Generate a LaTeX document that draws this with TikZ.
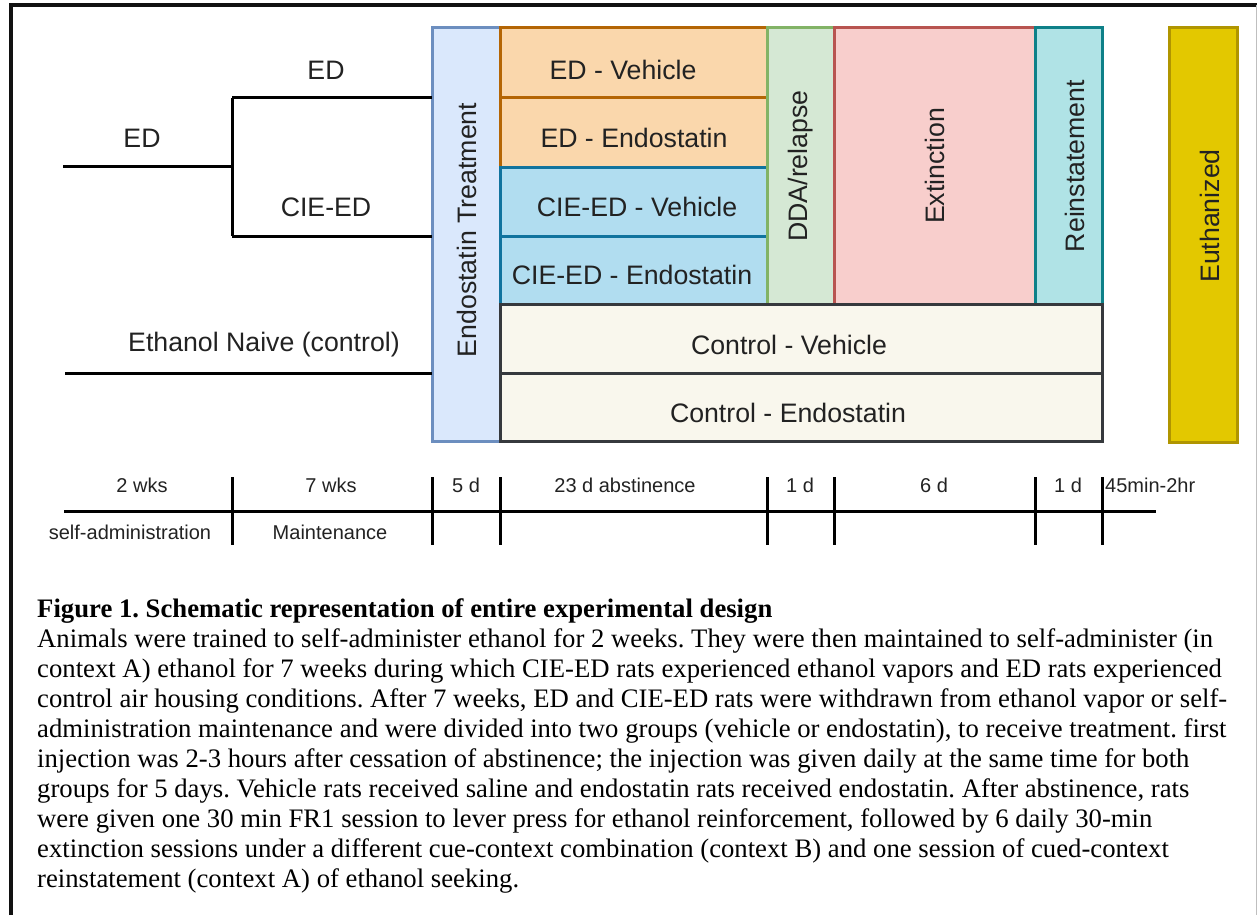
\documentclass[tikz,border=0pt]{standalone}
\usepackage{fontspec}
\setmainfont{Liberation Serif}
\setsansfont{Liberation Sans}
\frenchspacing
\definecolor{frameblack}{HTML}{111111}
\definecolor{trtfill}{HTML}{DAE8FC}\definecolor{trtdraw}{HTML}{6C8EBF}
\definecolor{edfill}{HTML}{FAD7AC}\definecolor{eddraw}{HTML}{B46504}
\definecolor{ciefill}{HTML}{B1DDF0}\definecolor{ciedraw}{HTML}{10739E}
\definecolor{ddafill}{HTML}{D5E8D4}\definecolor{ddadraw}{HTML}{82B366}
\definecolor{extfill}{HTML}{F8CECC}\definecolor{extdraw}{HTML}{B85450}
\definecolor{reifill}{HTML}{B0E3E6}\definecolor{reidraw}{HTML}{0E8088}
\definecolor{ctlfill}{HTML}{F9F7ED}\definecolor{ctldraw}{HTML}{36393D}
\definecolor{eutfill}{HTML}{E3C800}\definecolor{eutdraw}{HTML}{B09500}
\definecolor{txt}{HTML}{222222}
\begin{document}
\begin{tikzpicture}[x=1pt,y=-1pt,
  box/.style={draw, line width=3pt, anchor=north west, inner sep=0pt, outer sep=0pt},
  lbl/.style={font=\sffamily\fontsize{26.7}{30}\selectfont, text=txt, inner sep=0pt},
  vlbl/.style={lbl, rotate=90},
  tl/.style={font=\sffamily\fontsize{20}{24}\selectfont, text=txt, inner sep=0pt},
  wire/.style={line width=3pt, black},
  tickline/.style={line width=3pt, black},
  captxt/.style={font=\fontsize{26.7}{30.1}\selectfont, anchor=base west, inner sep=0pt}
]
\useasboundingbox (0,0) rectangle (1257,915);
% frame
\draw[line width=4pt, frameblack] (11,915) -- (11,5) -- (1257,5);
\draw[line width=1pt, black!25] (1256,5) -- (1256,915);

% boxes
\node[box, fill=trtfill, draw=trtdraw, minimum width=68, minimum height=413] (trt) at (432,28) {};
\node[box, fill=edfill, draw=eddraw, minimum width=267, minimum height=70] (edv) at (500,28) {};
\node[box, fill=edfill, draw=eddraw, minimum width=267, minimum height=69] (ede) at (500,98) {};
\node[box, fill=ciefill, draw=ciedraw, minimum width=267, minimum height=69] (cv) at (500,167) {};
\node[box, fill=ciefill, draw=ciedraw, minimum width=267, minimum height=68] (ce) at (500,236) {};
\node[box, fill=ddafill, draw=ddadraw, minimum width=67, minimum height=276] (dda) at (767,28) {};
\node[box, fill=extfill, draw=extdraw, minimum width=201, minimum height=276] (ext) at (834,28) {};
\node[box, fill=reifill, draw=reidraw, minimum width=67, minimum height=276] (rei) at (1035,28) {};
\node[box, fill=ctlfill, draw=ctldraw, minimum width=602, minimum height=69] (ctv) at (500,304) {};
\node[box, fill=ctlfill, draw=ctldraw, minimum width=602, minimum height=68] (cte) at (500,373) {};
\node[box, fill=eutfill, draw=eutdraw, minimum width=68, minimum height=414] (eut) at (1169,28) {};

% box labels
\node[lbl] (edvt) at (623,70) {ED - Vehicle};
\node[lbl] (edet) at (634,138) {ED - Endostatin};
\node[lbl] (cvt) at (637,207) {CIE-ED - Vehicle};
\node[lbl] (cet) at (632,275) {CIE-ED - Endostatin};
\node[lbl] (ctvt) at (789,345) {Control - Vehicle};
\node[lbl] (ctet) at (788,413) {Control - Endostatin};
\node[vlbl] (trtt) at (467,230) {Endostatin Treatment};
\node[vlbl] (ddat) at (801,166) {DDA/relapse};
\node[vlbl] (extt) at (935,166) {Extinction};
\node[vlbl] (reit) at (1075,166) {Reinstatement};
\node[vlbl] (eutt) at (1210,216) {Euthanized};

% tree
\coordinate (edstart) at (63,166);
\coordinate (split) at (232,166);
\coordinate (splittop) at (232,98);
\coordinate (splitbot) at (232,236);
\coordinate (naive) at (65,373);
\draw[wire] (edstart) -- (split);
\draw[wire] (splittop) -- (splitbot);
\draw[wire] (splittop) -- (trt.west |- splittop);
\draw[wire] (splitbot) -- (trt.west |- splitbot);
\draw[wire] (naive) -- (trt.west |- naive);
\node[lbl] (ed1) at (142,138) {ED};
\node[lbl] (ed2) at (326,70) {ED};
\node[lbl] (cie) at (326,207) {CIE-ED};
\node[lbl] (nai) at (264,345) {Ethanol Naive (control)};

% timeline
\coordinate (tls) at (64,511);
\coordinate (tle) at (1156,511);
\draw[wire] (tls) -- (tle);
\foreach \x/\n in {232/t1,432/t2,500/t3,767/t4,834/t5,1035/t6,1102/t7}{
  \coordinate (\n a) at (\x,477);
  \coordinate (\n b) at (\x,545);
  \draw[tickline] (\n a) -- (\n b);
}
\node[tl] (l1) at (142,485) {2 wks};
\node[tl] (l2) at (331,485) {7 wks};
\node[tl] (l3) at (466,485) {5 d};
\node[tl] (l4) at (625,485) {23 d abstinence};
\node[tl] (l5) at (800,485) {1 d};
\node[tl] (l6) at (934,485) {6 d};
\node[tl] (l7) at (1068,485) {1 d};
\node[tl, anchor=west] (l8) at (1105,485) {45min-2hr};
\node[tl] (b1) at (130,532) {self-administration};
\node[tl] (b2) at (330,532) {Maintenance};

% caption
\node[captxt] (c0) at (37,617.0) {\textbf{Figure 1. Schematic representation of entire experimental design}};
\node[captxt] (c1) at (37,647.1) {Animals were trained to self-administer ethanol for 2 weeks. They were then maintained to self-administer (in};
\node[captxt] (c2) at (37,677.2) {context A) ethanol for 7 weeks during which CIE-ED rats experienced ethanol vapors and ED rats experienced};
\node[captxt] (c3) at (37,707.3) {control air housing conditions. After 7 weeks, ED and CIE-ED rats were withdrawn from ethanol vapor or self-};
\node[captxt] (c4) at (37,737.4) {administration maintenance and were divided into two groups (vehicle or endostatin), to receive treatment. first};
\node[captxt] (c5) at (37,767.5) {injection was 2-3 hours after cessation of abstinence; the injection was given daily at the same time for both};
\node[captxt] (c6) at (37,797.6) {groups for 5 days. Vehicle rats received saline and endostatin rats received endostatin. After abstinence, rats};
\node[captxt] (c7) at (37,827.7) {were given one 30 min FR1 session to lever press for ethanol reinforcement, followed by 6 daily 30-min};
\node[captxt] (c8) at (37,857.8) {extinction sessions under a different cue-context combination (context B) and one session of cued-context};
\node[captxt] (c9) at (37,887.9) {reinstatement (context A) of ethanol seeking.};
\end{tikzpicture}
\end{document}
